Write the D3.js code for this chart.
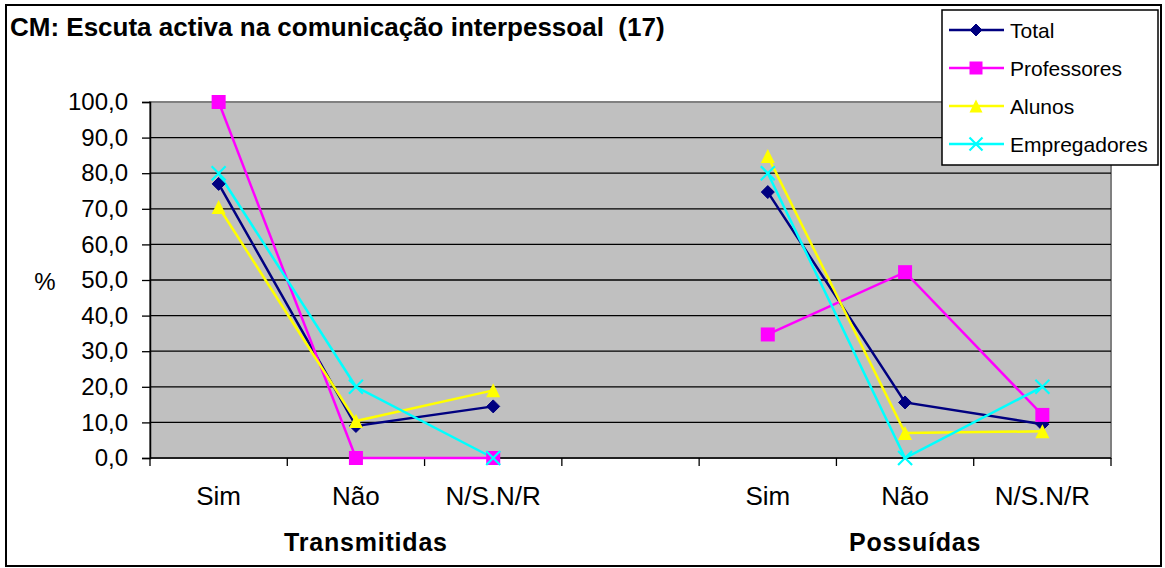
<!DOCTYPE html>
<html><head><meta charset="utf-8">
<script src="https://cdn.jsdelivr.net/npm/d3@7"></script>
<style>html,body{margin:0;padding:0;background:#fff;}svg{display:block;font-family:"Liberation Sans",Arial,sans-serif;}</style>
</head><body><svg id="c" width="1165" height="568"></svg>
<script>
const title = "CM: Escuta activa na comunicação interpessoal  (17)";
const categories = ["Sim", "Não", "N/S.N/R", "", "Sim", "Não", "N/S.N/R"];
const groups = ["Transmitidas", "Possuídas"];
const groupMembers = [[0, 1, 2], [4, 5, 6]];
const yTicks = [0, 10, 20, 30, 40, 50, 60, 70, 80, 90, 100];
const seriesNames = ["Total", "Professores", "Alunos", "Empregadores"];
const total        = [77.0, 9.0, 14.5, null, 74.7, 15.6, 9.5];
const professores  = [100.0, 0.0, 0.0, null, 34.7, 52.2, 12.1];
const alunos       = [70.5, 10.4, 19.0, null, 84.8, 7.0, 7.5];
const empregadores = [80.0, 20.0, 0.0, null, 80.0, 0.0, 20.0];
const seriesValues = [total, professores, alunos, empregadores];
const colors = ["#000080", "#FF00FF", "#FFFF00", "#00FFFF"];
const markers = ["diamond", "square", "triangle", "x"];

const svg = d3.select("#c");
const L = 150, R = 1111, T = 102, B = 458;
const x = d3.scaleBand().domain(d3.range(categories.length)).range([L, R]).paddingInner(0).paddingOuter(0);
const y = d3.scaleLinear().domain([0, 100]).range([B, T]);
const cx = i => x(i) + x.bandwidth() / 2;

// outer border
svg.append("rect").attr("x", 6).attr("y", 5).attr("width", 1155).attr("height", 561)
  .attr("fill", "#fff").attr("stroke", "#000").attr("stroke-width", 2);

// plot area
svg.append("rect").attr("x", L).attr("y", T).attr("width", R - L).attr("height", B - T)
  .attr("fill", "#C0C0C0").attr("stroke", "#808080").attr("stroke-width", 2);

// gridlines
svg.append("g").selectAll("line").data(yTicks.filter(d => d > 0 && d < 100)).join("line")
  .attr("x1", L).attr("x2", R).attr("y1", d => y(d)).attr("y2", d => y(d))
  .attr("stroke", "#000").attr("stroke-width", 1.3);

// y axis
const yAxis = d3.axisLeft(y).tickValues(yTicks).tickSize(8).tickPadding(14)
  .tickFormat(d => d3.format(".1f")(d).replace(".", ","));
const ya = svg.append("g").attr("transform", `translate(${L},0)`).call(yAxis);
ya.select(".domain").attr("stroke", "#000").attr("stroke-width", 1.5);
ya.selectAll(".tick line").attr("stroke", "#000").attr("stroke-width", 1.3);
ya.selectAll(".tick text").attr("font-size", 24).attr("fill", "#000")
  .attr("font-family", "Liberation Sans, Arial, sans-serif");

// x axis (tick marks at band boundaries)
svg.append("line").attr("x1", L).attr("x2", R).attr("y1", B).attr("y2", B)
  .attr("stroke", "#000").attr("stroke-width", 1.5);
const bounds = d3.range(categories.length + 1).map(i => i < categories.length ? x(i) : R);
svg.append("g").selectAll("line").data(bounds).join("line")
  .attr("x1", d => d).attr("x2", d => d).attr("y1", B).attr("y2", B + 8)
  .attr("stroke", "#000").attr("stroke-width", 1.3);
svg.append("g").selectAll("text").data(categories.map((c, i) => ({c, i})).filter(d => d.c)).join("text")
  .attr("x", d => cx(d.i)).attr("y", 505).attr("text-anchor", "middle")
  .attr("font-size", 26).text(d => d.c);
svg.append("g").selectAll("text").data(groups).join("text")
  .attr("x", (d, gi) => d3.mean(groupMembers[gi], cx) + 10).attr("y", 551)
  .attr("text-anchor", "middle").attr("font-size", 25).attr("letter-spacing", 0.8)
  .attr("font-weight", "bold").text(d => d);

// y label
svg.append("text").attr("x", 45).attr("y", 290).attr("text-anchor", "middle").attr("font-size", 24).text("%");

// title
svg.append("text").attr("x", 10).attr("y", 36).attr("font-size", 26).attr("font-weight", "bold")
  .style("white-space", "pre").attr("xml:space", "preserve").text(title);

function drawMarker(g, type, color, s) {
  if (type === "diamond") {
    g.append("path").attr("d", `M0,${-s}L${s},0L0,${s}L${-s},0Z`).attr("fill", color).attr("stroke", color);
  } else if (type === "square") {
    g.append("rect").attr("x", -s).attr("y", -s).attr("width", 2 * s).attr("height", 2 * s).attr("fill", color);
  } else if (type === "triangle") {
    g.append("path").attr("d", `M0,${-s}L${s},${s}L${-s},${s}Z`).attr("fill", color);
  } else {
    g.append("path").attr("d", `M${-s},${-s}L${s},${s}M${-s},${s}L${s},${-s}`).attr("stroke", color).attr("stroke-width", 2.2).attr("fill", "none");
  }
}
const msize = [6.5, 7, 7, 7];

// series
const line = d3.line().defined(d => d.v != null).x(d => cx(d.i)).y(d => y(d.v));
seriesValues.forEach((vals, si) => {
  const pts = vals.map((v, i) => ({v, i}));
  svg.append("path").datum(pts).attr("d", line).attr("fill", "none")
    .attr("stroke", colors[si]).attr("stroke-width", 2.5);
});
seriesValues.forEach((vals, si) => {
  vals.forEach((v, i) => {
    if (v == null) return;
    const g = svg.append("g").attr("transform", `translate(${cx(i)},${y(v)})`);
    drawMarker(g, markers[si], colors[si], msize[si]);
  });
});

// legend
const lg = svg.append("g");
lg.append("rect").attr("x", 942).attr("y", 10).attr("width", 216).attr("height", 155)
  .attr("fill", "#fff").attr("stroke", "#000").attr("stroke-width", 1.5);
seriesNames.forEach((n, si) => {
  const yy = 30 + si * 38;
  lg.append("line").attr("x1", 949).attr("x2", 1004).attr("y1", yy).attr("y2", yy)
    .attr("stroke", colors[si]).attr("stroke-width", 2.5);
  const g = lg.append("g").attr("transform", `translate(976,${yy})`);
  drawMarker(g, markers[si], colors[si], msize[si] - 0.5);
  lg.append("text").attr("x", 1010).attr("y", yy + 7.5).attr("font-size", 21).text(n);
});
</script></body></html>
